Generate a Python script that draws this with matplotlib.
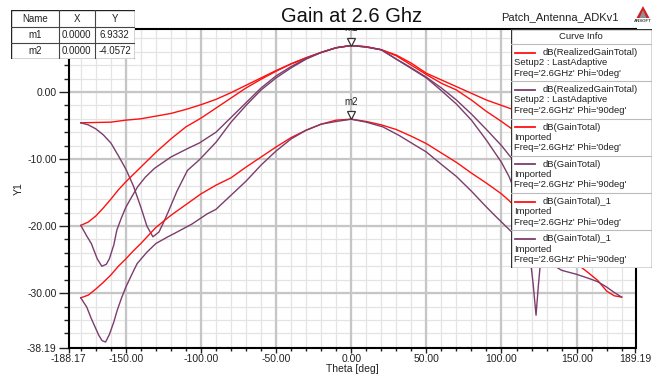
import matplotlib
matplotlib.use("Agg")
import matplotlib.pyplot as plt
import matplotlib.transforms as mtransforms
from matplotlib.patches import Polygon, Rectangle
from matplotlib.ticker import FixedLocator

plt.rcParams["font.family"] = ["Liberation Sans", "DejaVu Sans"]

RED = "#ff1010"
PURPLE = "#7b3d6c"

# dB(RealizedGainTotal) Setup2, Phi=0
th_real0 = [-180, -170, -160, -150, -140, -130, -120, -110, -100, -90, -80, -70, -60, -50,
            -40, -30, -20, -10, 0, 10, 20, 30, 40, 50, 60, 70, 80, 90, 100, 110, 120, 135,
            150, 165, 180]
db_real0 = [-4.6, -4.55, -4.5, -4.2, -4.0, -3.6, -3.2, -2.6, -1.9, -1.1, -0.1, 1.0, 2.1, 3.2,
            4.2, 5.1, 5.9, 6.6, 6.93, 6.75, 6.3, 5.5, 4.3, 2.8, 1.8, 0.8, -0.2, -1.2, -2.0,
            -2.8, -3.3, -3.9, -4.3, -4.5, -4.6]

# dB(RealizedGainTotal) Setup2, Phi=90
th_real90 = [-180, -175, -170, -165, -160, -155, -150, -145, -140, -136, -132, -128, -125,
             -122, -116, -109, -101, -90, -80, -70, -60, -50, -40, -30, -20, -10, 0, 10, 20,
             30, 40, 50, 60, 70, 80, 90, 100, 105, 115, 125, 140, 155, 170, 180]
db_real90 = [-4.6, -4.9, -5.5, -6.4, -7.6, -9.5, -11.5, -14.0, -17.2, -20.0, -21.6, -20.9,
             -19.5, -18.0, -14.8, -11.7, -10.1, -7.5, -4.5, -2.0, 0.3, 2.1, 3.6, 4.9, 5.9, 6.6,
             6.93, 6.7, 6.3, 4.9, 3.6, 2.2, 0.6, -1.2, -3.3, -5.6, -8.0, -9.4, -12.0, -14.0,
             -12.0, -9.0, -6.0, -4.6]

# dB(GainTotal) Imported, Phi=0
th_gain0 = [-180, -175, -170, -165, -160, -155, -150, -145, -140, -130, -120, -110, -100,
            -90, -80, -70, -60, -50, -40, -30, -20, -10, 0, 10, 20, 30, 40, 50, 60, 70, 80,
            90, 100, 105, 115, 130, 145, 155, 165, 175, 180]
db_gain0 = [-19.9, -19.4, -18.5, -17.3, -16.0, -14.6, -13.4, -12.3, -11.2, -9.0, -7.0, -5.2,
            -3.9, -2.4, -0.9, 0.6, 1.9, 3.1, 4.2, 5.1, 5.9, 6.6, 6.93, 6.75, 6.3, 5.4, 4.0,
            2.6, 1.3, 0.3, -1.2, -2.9, -4.4, -5.2, -6.8, -9.2, -12.3, -14.6, -17.3, -19.4,
            -19.9]

# dB(GainTotal) Imported, Phi=90
th_gain90 = [-180, -176, -173, -169, -166, -163, -161, -158, -156, -153, -150, -146, -142,
             -137, -131, -120, -109, -101, -90, -80, -70, -60, -50, -40, -30, -20, -10, 0,
             10, 20, 30, 40, 50, 60, 70, 80, 90, 100, 105, 112, 119, 121, 123, 124.5, 126.5,
             135, 150, 165, 180]
db_gain90 = [-19.9, -21.5, -22.6, -24.9, -26.0, -25.7, -24.9, -22.8, -20.6, -18.8, -17.2,
             -15.6, -14.1, -12.7, -11.4, -9.7, -8.45, -7.6, -6.0, -3.8, -1.6, 0.6, 2.4, 3.8,
             5.0, 5.9, 6.6, 6.93, 6.7, 6.3, 4.9, 3.5, 2.1, 0.2, -1.8, -4.2, -7.2, -10.5,
             -12.6, -16.5, -24.5, -28.5, -33.3, -29.0, -24.0, -19.5, -19.0, -19.5, -19.9]

# dB(GainTotal)_1 Imported, Phi=0
th_gain1_0 = [-180, -175, -170, -165, -160, -155, -150, -145, -140, -130, -120, -110, -100,
              -90, -80, -70, -60, -50, -40, -30, -20, -10, 0, 10, 20, 30, 40, 50, 60, 70, 80,
              90, 100, 105, 120, 135, 150, 158, 164, 170, 175, 180]
db_gain1_0 = [-30.7, -30.3, -29.4, -28.4, -27.3, -26.0, -24.9, -23.7, -22.6, -20.2, -18.4,
              -16.8, -15.2, -13.9, -12.8, -11.2, -9.7, -8.2, -6.8, -5.7, -4.8, -4.2, -4.06,
              -4.4, -4.9, -5.6, -6.6, -7.7, -9.1, -10.5, -12.1, -13.6, -15.2, -16.2, -19.5,
              -22.8, -25.6, -27.0, -28.1, -29.7, -30.4, -30.6]

# dB(GainTotal)_1 Imported, Phi=90
th_gain1_90 = [-180, -176, -173, -171, -168, -165.8, -163.5, -161, -158, -155.8, -153, -150,
               -146, -142.5, -136, -130, -122, -116, -106, -96, -90, -80, -70, -60, -50, -40,
               -30, -20, -10, 0, 10, 21, 32, 40, 50, 60, 70, 80, 88, 95, 105.5, 115, 125, 140,
               150, 158, 164, 170, 175, 180]
db_gain1_90 = [-30.7, -32.1, -33.8, -34.8, -36.3, -37.1, -37.3, -36.2, -34.3, -32.6, -30.8,
               -29.1, -27.2, -25.6, -23.9, -22.6, -21.6, -20.9, -19.7, -18.2, -17.5, -15.4,
               -13.3, -10.9, -8.8, -7.0, -5.7, -4.8, -4.4, -4.06, -4.5, -5.2, -6.5, -7.6,
               -8.95, -10.8, -12.6, -14.8, -16.7, -18.3, -20.6, -22.5, -24.5, -26.6, -27.2,
               -27.8, -28.3, -29.1, -29.9, -30.6]

curves = [
    (th_real0, db_real0, RED, "dB(RealizedGainTotal)", "Setup2 : LastAdaptive", "0deg"),
    (th_real90, db_real90, PURPLE, "dB(RealizedGainTotal)", "Setup2 : LastAdaptive", "90deg"),
    (th_gain0, db_gain0, RED, "dB(GainTotal)", "Imported", "0deg"),
    (th_gain90, db_gain90, PURPLE, "dB(GainTotal)", "Imported", "90deg"),
    (th_gain1_0, db_gain1_0, RED, "dB(GainTotal)_1", "Imported", "0deg"),
    (th_gain1_90, db_gain1_90, PURPLE, "dB(GainTotal)_1", "Imported", "90deg"),
]

markers = [("m1", 0.0, 6.9332), ("m2", 0.0, -4.0572)]

xmin, xmax = -188.17, 189.19
ymin, ymax = -38.19, 9.35

W, H = 654, 376
fig = plt.figure(figsize=(W / 100, H / 100), dpi=100)
ax = fig.add_axes([68.5 / W, 1 - 348 / H, 567 / W, 318.7 / H])

for th, db, col, _, _, _ in curves:
    ax.plot(th, db, color=col, lw=1.0, zorder=3)

ax.set_xlim(xmin, xmax)
ax.set_ylim(ymin, ymax)

ax.xaxis.set_major_locator(FixedLocator([-188.17, -150, -100, -50, 0, 50, 100, 150, 189.19]))
ax.xaxis.set_minor_locator(FixedLocator(list(range(-180, 181, 10))))
ax.yaxis.set_major_locator(FixedLocator([-38.19, -30, -20, -10, 0]))
ax.yaxis.set_minor_locator(FixedLocator(list(range(-36, 10, 2))))
ax.set_xticklabels(["-188.17", "-150.00", "-100.00", "-50.00", "0.00", "50.00", "100.00",
                    "150.00", "189.19"])
ax.set_yticklabels(["-38.19", "-30.00", "-20.00", "-10.00", "0.00"])

# grid
for x in range(-180, 181, 10):
    ax.axvline(x, color="#e4e4e4", lw=0.9, zorder=1)
for y in range(-38, 10, 2):
    ax.axhline(y, color="#e4e4e4", lw=0.9, zorder=1)
for x in [-150, -100, -50, 0, 50, 100, 150]:
    ax.axvline(x, color="#c6c6c6", lw=1.6, zorder=2)
for y in [-30, -20, -10, 0]:
    ax.axhline(y, color="#c6c6c6", lw=1.6, zorder=2)

ax.tick_params(axis="y", which="major", direction="out", length=7, width=1, labelsize=7.5,
               pad=1.5, colors="#222222")
ax.tick_params(axis="y", which="minor", direction="out", length=3.5, width=1, colors="#222222")
ax.tick_params(axis="x", which="major", direction="out", length=3.5, width=1, labelsize=7.5,
               pad=0.5, colors="#222222")
ax.tick_params(axis="x", which="minor", direction="out", length=2.5, width=1, colors="#222222")
for s in ax.spines.values():
    s.set_linewidth(1.5)
    s.set_color("black")

ax.set_xlabel("Theta [deg]", fontsize=7.5, labelpad=0, color="#222222")
ax.set_ylabel("Y1", fontsize=7.5, labelpad=2, color="#222222")

# markers
tri = mtransforms.offset_copy(ax.transData, fig=fig, y=4, units="dots")
for name, mx, my in markers:
    ax.plot([mx], [my], marker="v", ms=6, mfc="white", mec="#333333", mew=0.9,
            transform=tri, zorder=5, clip_on=False)
    ax.annotate(name, (mx, my), xytext=(0, 9), textcoords="offset points", ha="center",
                va="bottom", fontsize=7, color="#222222", annotation_clip=True, clip_on=True,
                zorder=5)

fig.text(352 / W, 1 - 16 / H, "Gain at 2.6 Ghz", ha="center", va="center", fontsize=14.5,
         color="#111111")
fig.text(560 / W, 1 - 17 / H, "Patch_Antenna_ADKv1", ha="center", va="center", fontsize=8,
         color="#222222")

# ansoft logo
lo = fig.add_axes([633 / W, 1 - 24 / H, 20 / W, 20 / H])
lo.set_xlim(0, 20)
lo.set_ylim(20, 0)
lo.axis("off")
lo.add_patch(Polygon([[10, 2], [3.5, 14], [16.5, 14]], closed=True, fc="#d02020", ec="none"))
lo.add_patch(Polygon([[10, 6], [6.5, 14], [13.5, 14]], closed=True, fc="#909090", ec="none"))
lo.text(10, 17.5, "ANSOFT", ha="center", va="center", fontsize=3.2, color="#444444",
        fontweight="bold")

# marker table
tb = fig.add_axes([11 / W, 1 - 58.5 / H, 123.5 / W, 48.5 / H])
tb.set_xlim(0, 123.5)
tb.set_ylim(48.5, 0)
tb.axis("off")
tb.add_patch(Rectangle((0, 0), 123.5, 48.5, fc="white", ec="#222222", lw=1.0))
for yy in [17, 32.5]:
    tb.plot([0, 123.5], [yy, yy], color="#444444", lw=0.8)
for xx in [47.5, 84]:
    tb.plot([xx, xx], [0, 48.5], color="#444444", lw=0.8)
cols = [23.7, 65.7, 103.7]
for cx, t in zip(cols, ["Name", "X", "Y"]):
    tb.text(cx, 8.8, t, ha="center", va="center", fontsize=7, color="#222222")
for r, (name, mx, my) in enumerate(markers):
    cy = 25 + r * 15.5
    tb.text(cols[0], cy, name, ha="center", va="center", fontsize=7, color="#222222")
    tb.text(cols[1], cy, f"{mx:.4f}", ha="center", va="center", fontsize=7, color="#222222")
    tb.text(cols[2], cy, f"{my:.4f}", ha="center", va="center", fontsize=7, color="#222222")

# curve info box
lw_, lh_ = 141, 239
lg = fig.add_axes([510.5 / W, 1 - 268 / H, lw_ / W, lh_ / H])
lg.set_xlim(0, lw_)
lg.set_ylim(lh_, 0)
lg.axis("off")
lg.add_patch(Rectangle((0, 0), lw_, lh_, fc="white", ec="#333333", lw=1.0))
lg.text(lw_ / 2, 7.5, "Curve Info", ha="center", va="center", fontsize=6.8, color="#222222")
lg.plot([0, lw_], [15, 15], color="#bbbbbb", lw=0.8)
for i, (_, _, col, name, src, phi) in enumerate(curves):
    top = 15 + i * 37.3
    if i > 0:
        lg.plot([0, lw_], [top, top], color="#bbbbbb", lw=0.8)
    lg.plot([4, 24], [top + 8.5, top + 8.5], color=col, lw=1.3)
    lg.text(32, top + 8.5, name, ha="left", va="center", fontsize=6.8, color="#222222")
    lg.text(4, top + 18.7, src, ha="left", va="center", fontsize=6.8, color="#222222")
    lg.text(4, top + 29, f"Freq='2.6GHz' Phi='{phi}'", ha="left", va="center", fontsize=6.8,
            color="#222222")

fig.savefig("out.png", dpi=100)
